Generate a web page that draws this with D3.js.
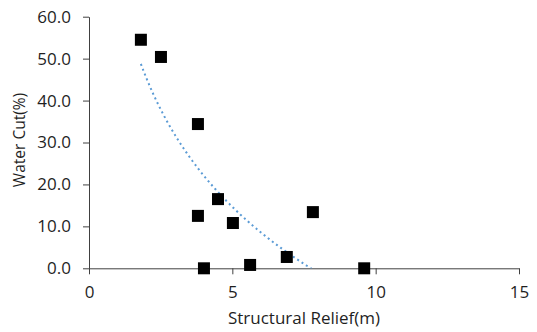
<!DOCTYPE html>
<html>
<head>
<meta charset="utf-8">
<script src="https://cdn.jsdelivr.net/npm/d3@7"></script>
<style>
  html, body { margin: 0; padding: 0; background: #fff; }
  svg { display: block; }
  text { font-family: "Open Sans", sans-serif; fill: #1f1f1f; }
</style>
</head>
<body>
<svg id="chart" width="537" height="332"></svg>
<script>
// Structural relief (m) vs. water cut (%) for each well
const reliefValues = [1.81, 2.51, 3.80, 3.80, 4.01, 4.50, 5.02, 5.62, 6.90, 7.81, 9.60];
const waterCutValues = [54.5, 50.4, 34.4, 12.5, 0.0, 16.5, 10.8, 0.8, 2.7, 13.4, 0.0];
const xTickValues = [0, 5, 10, 15];
const yTickValues = [0, 10, 20, 30, 40, 50, 60];
const xAxisTitle = "Structural Relief(m)";
const yAxisTitle = "Water Cut(%)";

const svg = d3.select("#chart");

const x = d3.scaleLinear().domain([0, 15]).range([89, 519]);
const y = d3.scaleLinear().domain([0, 60]).range([268.3, 16.7]);

const axisColor = "#404040";
const textColor = "#1f1f1f";

// y axis
const yAxis = svg.append("g")
  .attr("transform", `translate(${x(0)},0)`)
  .call(d3.axisLeft(y).tickValues(yTickValues).tickFormat(d3.format(".1f"))
    .tickSize(6).tickSizeOuter(0).tickPadding(12));

// x axis
const xAxis = svg.append("g")
  .attr("transform", `translate(0,${y(0)})`)
  .call(d3.axisBottom(x).tickValues(xTickValues).tickFormat(d3.format("d"))
    .tickSize(6).tickSizeOuter(0).tickPadding(11.5));

[yAxis, xAxis].forEach(g => {
  g.select(".domain").attr("stroke", axisColor).attr("stroke-width", 1);
  g.selectAll(".tick line").attr("stroke", axisColor).attr("stroke-width", 1);
  g.selectAll(".tick text")
    .style("font-family", "'Open Sans', sans-serif")
    .style("font-size", "17px")
    .attr("fill", textColor);
});

// axis titles
svg.append("text")
  .attr("x", 304)
  .attr("y", 324)
  .attr("text-anchor", "middle")
  .style("font-size", "17px")
  .text(xAxisTitle);

svg.append("text")
  .attr("transform", "translate(25,140) rotate(-90)")
  .attr("text-anchor", "middle")
  .style("font-size", "15.5px")
  .text(yAxisTitle);

// logarithmic trendline: y = a*ln(x) + b (least squares)
const lx = reliefValues.map(Math.log);
const mx = d3.mean(lx), my = d3.mean(waterCutValues);
const sxy = d3.sum(lx, (v, i) => (v - mx) * (waterCutValues[i] - my));
const sxx = d3.sum(lx, v => (v - mx) * (v - mx));
const a = sxy / sxx;
const b = my - a * mx;

const xMin = d3.min(reliefValues), xMax = d3.max(reliefValues);
const trendPts = d3.range(0, 201).map(i => {
  const xv = xMin + (xMax - xMin) * i / 200;
  return [xv, a * Math.log(xv) + b];
});

svg.append("clipPath").attr("id", "plotClip")
  .append("rect")
  .attr("x", x(0)).attr("y", y(60))
  .attr("width", x(15) - x(0)).attr("height", y(0) - y(60));

svg.append("path")
  .datum(trendPts)
  .attr("clip-path", "url(#plotClip)")
  .attr("fill", "none")
  .attr("stroke", "#5B9BD5")
  .attr("stroke-width", 2)
  .attr("stroke-dasharray", "2,3.2")
  .attr("d", d3.line().x(d => x(d[0])).y(d => y(d[1])));

// markers
const size = 12;
svg.append("g")
  .selectAll("rect")
  .data(reliefValues.map((v, i) => [v, waterCutValues[i]]))
  .join("rect")
  .attr("x", d => x(d[0]) - size / 2)
  .attr("y", d => y(d[1]) - size / 2)
  .attr("width", size)
  .attr("height", size)
  .attr("fill", "#000");
</script>
</body>
</html>
